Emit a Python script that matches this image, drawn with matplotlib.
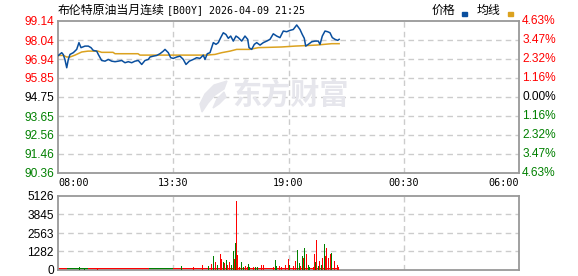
import matplotlib
matplotlib.use("Agg")
import matplotlib.pyplot as plt
from matplotlib.patches import Rectangle, Polygon

# ---------------- data ----------------
title_cn = "布伦特原油当月连续"
title_en = "[B00Y] 2026-04-09 21:25"
prev_close = 94.75
price_ticks = [90.36, 91.46, 92.56, 93.65, 94.75, 95.85, 96.94, 98.04, 99.14]
pct_labels = ["4.63%", "3.47%", "2.32%", "1.16%", "0.00%", "1.16%", "2.32%", "3.47%", "4.63%"]
time_ticks = [0, 330, 660, 990, 1320]
time_labels = ["08:00", "13:30", "19:00", "00:30", "06:00"]
vol_ticks = [0, 1282, 2563, 3845, 5126]

# minutes after 08:00
price_t = [1, 10.6, 15.2, 20, 25, 29.5, 34.4, 43.8, 53.5, 60, 65.9, 77.3, 86.8, 94.5, 101,
           110.8, 115.4, 125, 134.6, 144.1, 153.8, 163.3, 172.7, 182.4, 191.8, 201.3, 211,
           220.5, 229.9, 239.7, 249.1, 258.6, 263.4, 272.9, 282.6, 292, 301.5, 306.4, 315.8,
           322.7, 330.1, 339.9, 349.3, 358.8, 366.5, 375.9, 387.4, 397.1, 406.6, 416, 420.9,
           427.5, 435.2, 444.7, 452.4, 459, 465.9, 473.3, 481, 487.6, 494.5, 501.9, 509.7,
           516.3, 526, 535.4, 543.2, 546.9, 554.6, 562.1, 569, 578.4, 587.9, 597.6, 607,
           616.5, 626.2, 635.6, 645.1, 654.8, 664.3, 673.7, 683.5, 692.9, 699.5, 705.2,
           709.2, 716.7, 726.4, 735.9, 745.3, 750.2, 756.8, 764.5, 772.2, 778.8, 785.4,
           793.1, 800.9, 805]
price_v = [97.15, 97.31, 97.2, 96.9, 96.44, 96.92, 97.21, 97.31, 97.5, 97.89, 97.6, 97.69,
           97.69, 97.6, 97.44, 97.4, 97.21, 96.86, 96.82, 96.92, 96.82, 96.79, 96.82, 96.86,
           96.73, 96.79, 96.73, 96.82, 96.86, 96.63, 96.86, 96.92, 97.06, 97.11, 97.15,
           97.25, 97.4, 97.5, 97.31, 97.02, 96.98, 97.06, 97.11, 96.92, 96.63, 96.82, 96.92,
           97.02, 96.98, 97.17, 96.92, 97.25, 97.31, 97.89, 97.79, 97.89, 98.18, 98.46,
           98.36, 98.14, 98.27, 97.98, 98.27, 98.18, 97.98, 98.27, 98.08, 97.6, 97.5, 97.79,
           97.89, 97.75, 97.89, 97.98, 98.08, 98.4, 98.27, 98.18, 98.56, 98.52, 98.6, 98.65,
           98.91, 98.65, 98.36, 98.14, 97.69, 97.79, 97.94, 97.98, 97.98, 97.79, 98.27,
           98.56, 98.52, 98.46, 98.18, 98.08, 98.02, 98.08]

avg_t = [1, 15.2, 25, 34.4, 48.7, 67.9, 85.9, 114.5, 125, 157.5, 163.3, 229, 234.8, 274.9,
         415.2, 425.8, 449.5, 468.7, 492.5, 511.7, 548.9, 573.5, 640.5, 678.6, 740.7,
         783.7, 805]
avg_v = [97.15, 97.15, 97.06, 97.06, 97.17, 97.35, 97.4, 97.4, 97.33, 97.33, 97.25, 97.25,
         97.17, 97.17, 97.17, 97.17, 97.21, 97.31, 97.4, 97.5, 97.5, 97.6, 97.64, 97.69,
         97.75, 97.83, 97.83]

vol_t = [62, 77, 114.5, 337.9, 355, 387.5, 406.6, 413.2, 420.9, 430.4, 440, 444.7, 450.5,
         456.2, 461, 464.8, 469.5, 473.4, 477.2, 482, 485.8, 490.5, 497.2, 502, 505.8, 508,
         510.5, 513.5, 519.2, 524.9, 530.6, 536.4, 542.1, 545.9, 549.7, 559.3, 566.9, 572.6,
         582.2, 587.9, 592.7, 607, 616.5, 622.3, 626.1, 635.6, 640.4, 647.1, 652.8, 659.5,
         664.2, 670, 675.7, 681.4, 685.2, 691, 694.8, 699.6, 704.3, 707.2, 712, 716.7, 721.5,
         731.1, 734.9, 736.8, 739.7, 745.4, 750.1, 754.9, 758.7, 762.6, 766.4, 770.2, 774,
         779.7, 783.5, 787.4, 791.2, 796, 799.8, 803.6]
vol_v = [230, 140, 140, 186, 280, 186, 350, 350, 230, 280, 420, 980, 580, 350, 420, 1120,
         770, 580, 510, 700, 350, 580, 350, 1330, 770, 1860, 4780, 1050, 230, 580, 186, 280,
         186, 420, 230, 186, 230, 230, 350, 350, 420, 510, 230, 700, 280, 280, 230, 930, 350,
         770, 350, 980, 280, 630, 1400, 510, 280, 980, 815, 1540, 1120, 350, 186, 186, 1120,
         580, 2100, 280, 630, 350, 815, 1820, 980, 1515, 815, 1120, 1165, 650, 650, 745,
         350, 186]
vol_c = ["g", "g", "r", "g", "g", "r", "r", "r", "g", "g", "r", "g", "r", "g", "r", "r",
         "r", "g", "r", "g", "r", "r", "g", "g", "r", "g", "r", "r", "r", "g", "g", "r",
         "r", "g", "g", "r", "g", "g", "r", "r", "r", "r", "r", "g", "g", "r", "r", "r", "r",
         "r", "g", "g", "r", "r", "g", "g", "r", "g", "r", "g", "r", "g", "g", "r", "r",
         "g", "r", "g", "r", "g", "r", "g", "r", "r", "r", "r", "g", "r", "r", "g", "r", "r"]

# low-volume background band (start, end, colour)
base_start = [0, 25, 85, 260, 330]
base_end = [25, 85, 260, 330, 805]
base_c = ["r", "g", "r", "g", "r"]
base_level = 110

# ---------------- style ----------------
RED = "#ff0000"
GREEN = "#008000"
BLUE = "#0a4f9e"
GOLD = "#dba21f"
SPINE = "#999999"
GRID = "#cccccc"
WM = "#e6e6ec"
cmap = {"r": RED, "g": GREEN}
num_font = "Liberation Sans"
cjk = ["Noto Sans CJK SC", "DejaVu Sans"]

W, H = 578, 276
fig = plt.figure(figsize=(W / 100, H / 100), dpi=100)

def fx(px):
    return px / W

def fy(py):
    return 1 - py / H

L, R = 58, 519
ax = fig.add_axes([fx(L), fy(173), fx(R) - fx(L), fy(21) - fy(173)])
axv = fig.add_axes([fx(L), fy(270), fx(R) - fx(L), fy(196) - fy(270)])

for a in (ax, axv):
    for s in a.spines.values():
        s.set_color(SPINE)
        s.set_linewidth(1.3)
    a.set_xlim(time_ticks[0], time_ticks[-1])
    a.tick_params(length=0)
    a.set_facecolor("white")

# main grid
ax.set_ylim(price_ticks[0], price_ticks[-1])
for p in price_ticks[1:-1]:
    ax.axhline(p, color=GRID, lw=1, ls=(0, (4, 3)), zorder=1)
for t in time_ticks[1:-1]:
    ax.axvline(t, color=GRID, lw=1, ls=(0, (4, 3)), zorder=1)
    axv.axvline(t, color=GRID, lw=1, ls=(0, (4, 3)), zorder=1)

# watermark (logo + text)
fig.text(fx(290), fy(95), "东方财富", fontsize=21, fontweight="bold",
         family=cjk, color=WM, ha="center", va="center", zorder=1.5)
logo = Polygon([(fx(227), fy(81)), (fx(214), fy(85)), (fx(205), fy(94)), (fx(200), fy(104)),
                (fx(202), fy(112)), (fx(208), fy(103)), (fx(215), fy(95)), (fx(224), fy(89))],
               closed=True, transform=fig.transFigure, color=WM, zorder=0.5)
fig.patches.append(logo)
logo2 = Polygon([(fx(224), fy(92)), (fx(217), fy(99)), (fx(213), fy(108)), (fx(219), fy(104)),
                 (fx(226), fy(97))],
                closed=True, transform=fig.transFigure, color=WM, zorder=0.5)
fig.patches.append(logo2)
ax.patch.set_alpha(0)

ax.plot(avg_t, avg_v, color=GOLD, lw=1.1, zorder=3)
ax.plot(price_t, price_v, color=BLUE, lw=1.1, zorder=4)

ax.set_yticks(price_ticks)
ax.set_yticklabels([f"{p:.2f}" for p in price_ticks], family=num_font, fontsize=8.6)
for lab, p in zip(ax.get_yticklabels(), price_ticks):
    lab.set_color(RED if p > prev_close else (GREEN if p < prev_close else "black"))
ax.tick_params(axis="y", pad=2.5)
ax.set_xticks([])

# right percent labels
for p, s in zip(price_ticks, pct_labels):
    c = RED if p > prev_close else (GREEN if p < prev_close else "black")
    ax.text(1.007, p, s, transform=ax.get_yaxis_transform(), ha="left", va="center",
            family=num_font, fontsize=8.6, color=c)

# time labels
for t, s in zip(time_ticks, time_labels):
    ha = "left" if t == time_ticks[0] else ("right" if t == time_ticks[-1] else "center")
    ax.text(t, -0.035, s, transform=ax.get_xaxis_transform(), ha=ha, va="top",
            family="DejaVu Sans Mono", fontsize=7.3, color="black")

# volume
axv.set_ylim(0, vol_ticks[-1])
for v in vol_ticks[1:-1]:
    axv.axhline(v, color=GRID, lw=1, ls=(0, (4, 3)), zorder=1)
axv.bar(base_start, [base_level] * len(base_start),
        width=[e - s for s, e in zip(base_start, base_end)], align="edge",
        color=[cmap[c] for c in base_c], linewidth=0, zorder=2)
axv.bar(vol_t, vol_v, width=2.8, color=[cmap[c] for c in vol_c], linewidth=0, zorder=3)
axv.set_yticks(vol_ticks)
axv.set_yticklabels([str(v) for v in vol_ticks], family=num_font, fontsize=8.6)
axv.tick_params(axis="y", pad=3)
axv.set_xticks([])

# title and legend
fig.text(fx(58), fy(10), title_cn, family=cjk, fontsize=8.6, va="center", ha="left")
fig.text(fx(167), fy(10), title_en, family=["DejaVu Sans Mono"], fontsize=7.2,
         va="center", ha="left")
fig.text(fx(432), fy(10), "价格", family=cjk, fontsize=8.6, va="center", ha="left")
fig.text(fx(477), fy(10), "均线", family=cjk, fontsize=8.6, va="center", ha="left")
fig.patches.append(Rectangle((fx(462), fy(16)), fx(5), fy(0) - fy(4),
                             transform=fig.transFigure, color=BLUE))
fig.patches.append(Rectangle((fx(508), fy(16)), fx(5), fy(0) - fy(4),
                             transform=fig.transFigure, color=GOLD))

fig.savefig("out.png", dpi=100, facecolor="white")
